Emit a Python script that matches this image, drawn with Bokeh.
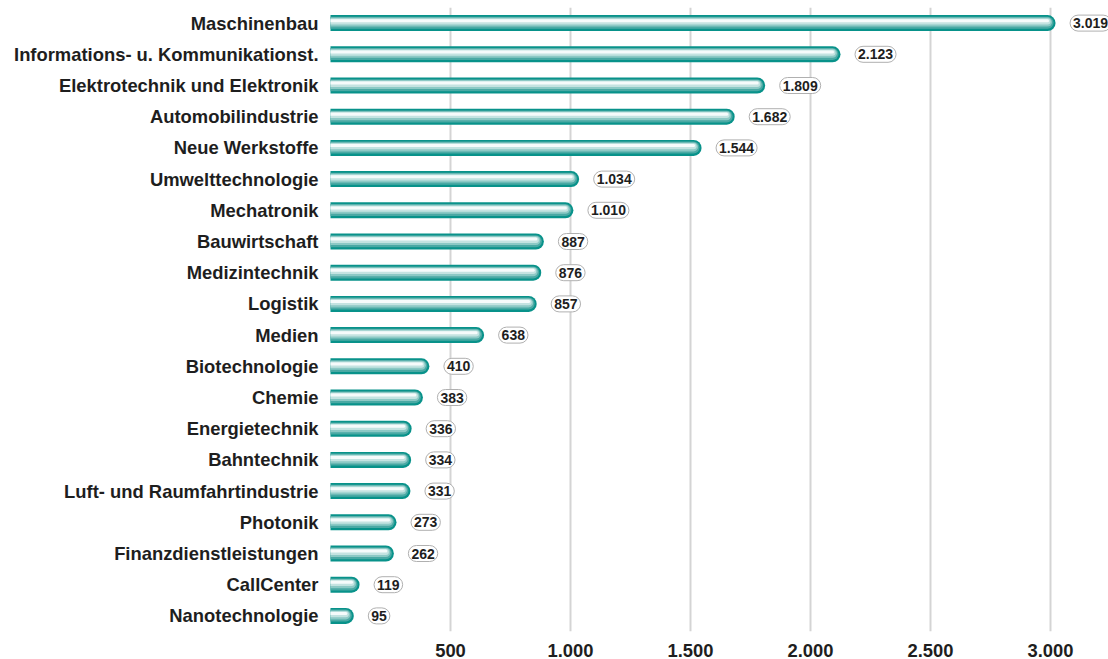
from bokeh.plotting import figure
from bokeh.models import FactorRange, Range1d, FixedTicker, ColumnDataSource
from bokeh.transform import dodge
from bokeh.core.properties import value
from bokeh.embed import file_html
from bokeh.resources import INLINE

categories = ["Maschinenbau", "Informations- u. Kommunikationst.", "Elektrotechnik und Elektronik",
              "Automobilindustrie", "Neue Werkstoffe", "Umwelttechnologie", "Mechatronik",
              "Bauwirtschaft", "Medizintechnik", "Logistik", "Medien", "Biotechnologie", "Chemie",
              "Energietechnik", "Bahntechnik", "Luft- und Raumfahrtindustrie", "Photonik",
              "Finanzdienstleistungen", "CallCenter", "Nanotechnologie"]
values = [3019, 2123, 1809, 1682, 1544, 1034, 1010, 887, 876, 857, 638, 410, 383, 336, 334, 331,
          273, 262, 119, 95]
value_labels = ["3.019", "2.123", "1.809", "1.682", "1.544", "1.034", "1.010", "887", "876", "857",
                "638", "410", "383", "336", "334", "331", "273", "262", "119", "95"]
tick_values = [500, 1000, 1500, 2000, 2500, 3000]
tick_labels = ["500", "1.000", "1.500", "2.000", "2.500", "3.000"]

W, H = 1108, 659
LEFT = 330
frame_w = W - LEFT
X_MAX = frame_w / 0.24
units_per_px = X_MAX / frame_w
CAP = 7.5 * units_per_px

FONT = "Liberation Sans"

p = figure(width=W, height=H, output_backend="svg", toolbar_location=None,
           y_range=FactorRange(factors=categories[::-1], range_padding=0),
           x_range=Range1d(0, X_MAX),
           min_border_left=LEFT, min_border_right=0, min_border_top=7, min_border_bottom=0)
p.outline_line_color = None
p.background_fill_color = "white"

src = ColumnDataSource(dict(cat=categories, val=values, end=[v - CAP for v in values],
                            zero=[0] * len(values), lab=value_labels))

# grid
p.ygrid.grid_line_color = None
p.xgrid.grid_line_color = "#d4d4d4"
p.xgrid.grid_line_width = 2
p.xaxis.ticker = FixedTicker(ticks=tick_values)
p.xaxis.major_label_overrides = {t: l for t, l in zip(tick_values, tick_labels)}

for ax in (p.xaxis, p.yaxis):
    ax.axis_line_color = None
    ax.major_tick_line_color = None
    ax.minor_tick_line_color = None
    ax.major_label_text_font = FONT
    ax.major_label_text_font_style = "bold"
    ax.major_label_text_font_size = "18.4px"
    ax.major_label_text_color = "#1e1e1e"
p.yaxis.major_label_standoff = 6
p.xaxis.major_label_standoff = 6

px = 1.0 / 31.0  # one pixel in category units (approx)
layers = [
    (16, "#08928a", 0.0),
    (12, "#4aa9a4", 0.3),
    (9, "#8cc9c5", 1.0),
    (6, "#c4e3e1", 1.6),
    (3, "#f6fbfb", 2.4),
]
for w, c, dy in layers:
    p.segment(x0="zero", x1="end", y0=dodge("cat", dy * px, range=p.y_range),
              y1=dodge("cat", dy * px, range=p.y_range), source=src,
              line_width=w, line_color=c, line_cap="round")

p.text(x="val", y="cat", text="lab", source=src, x_offset=15,
       text_font=value(FONT), text_font_style="bold", text_font_size="14px",
       text_color="#1e1e1e", text_align="left", text_baseline="middle",
       background_fill_color="white", border_line_color="#b0b0b0", border_line_width=1,
       padding=3, border_radius=8)

open("out.html", "w").write(file_html(p, INLINE))
